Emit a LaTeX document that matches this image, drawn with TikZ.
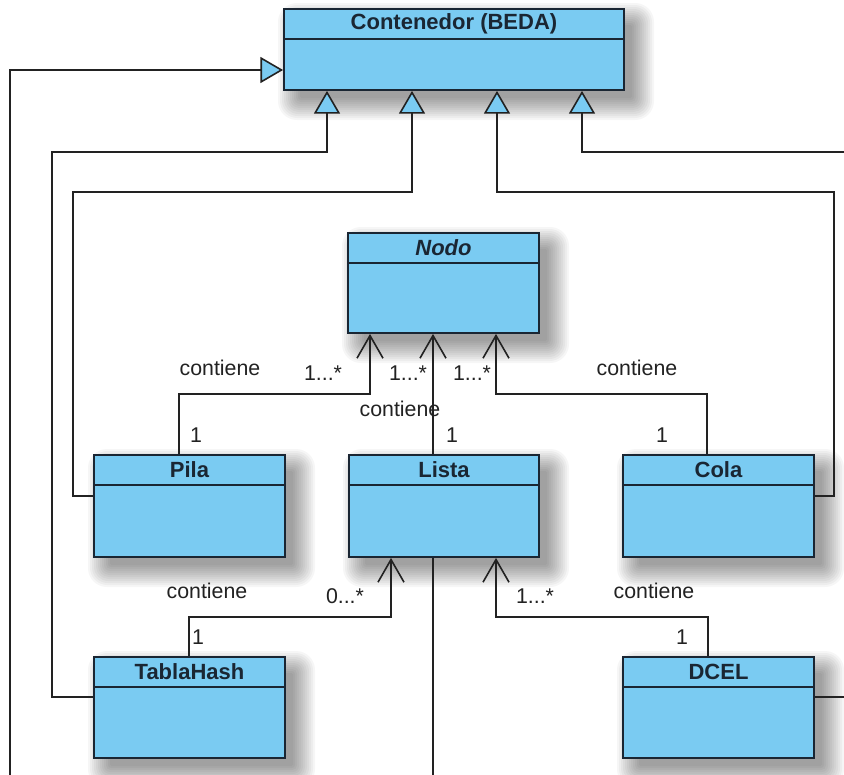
\documentclass[tikz,border=0pt]{standalone}
\usepackage{fontspec}
\setmainfont{Liberation Sans}
\usetikzlibrary{arrows.meta,fit}

\definecolor{boxblue}{HTML}{7ACBF2}
\definecolor{boxedge}{HTML}{1A2633}
\definecolor{ink}{HTML}{222222}

\tikzset{
  umlbox/.style={draw=boxedge, line width=1.4pt, fill=boxblue, inner sep=0pt},
  sepline/.style={draw=boxedge, line width=1.4pt},
  classname/.style={font=\fontsize{16.5}{18}\selectfont\bfseries, text=boxedge, inner sep=0pt},
  shadowlayer/.style={fill=black, opacity=0.035},
  rel/.style={draw=ink, line width=1.2pt, line join=miter},
  inh/.style={rel, -{Triangle[length=17pt, width=19.5pt, fill=boxblue, line width=1.2pt]}},
  assoc/.style={rel, -{Straight Barb[length=17pt, width=19.5pt, line width=1.2pt]}},
  tag/.style={font=\fontsize{16}{18}\selectfont, text=ink, inner sep=0pt},
}

% soft drop shadow under a box: left, top, right, bottom
\newcommand{\softshadow}[4]{%
  \foreach \k [evaluate=\k as \e using 2*\k-4,
               evaluate=\k as \r using 1.2*\k+1] in {0,...,11} {
    \fill[shadowlayer, rounded corners=\r pt]
      (#1+12-\e,#2+12-\e) rectangle (#3+12+\e,#4+12+\e);
  }%
}

% class box: name, left, top, right, bottom, title (header band 30 units high)
\newcommand{\umlclass}[6]{%
  \softshadow{#2}{#3}{#4}{#5}
  \node[umlbox, fit={(#2,#3) (#4,#5)}] (#1) {};
  \draw[sepline] (#2,#3+30) -- (#4,#3+30);
  \node[classname] (#1-title) at ({(#2+#4)/2},#3+15) {#6};
}

\begin{document}
\begin{tikzpicture}[x=0.75pt, y=-0.75pt]
  \useasboundingbox (0,0) rectangle (844,775);
  \fill[white] (0,0) rectangle (844,775);
  \clip (0,0) rectangle (844,775);

  % classes
  \umlclass{C}{284}{9}{624}{90}{Contenedor (BEDA)}
  \umlclass{N}{348}{233}{539}{333}{\textit{Nodo}}
  \umlclass{P}{94}{455}{285}{557}{Pila}
  \umlclass{L}{349}{455}{539}{557}{Lista}
  \umlclass{Q}{623}{455}{814}{557}{Cola}
  \umlclass{T}{94}{657}{285}{758}{TablaHash}
  \umlclass{D}{623}{657}{814}{758}{DCEL}

  % ends of lines that continue past the frame
  \coordinate (offL) at (10,800);
  \coordinate (offR) at (870,0);
  \coordinate (offB) at (433,800);

  % generalisation towards Contenedor
  \draw[inh] (offL) |- (C.west |- 0,70);
  \draw[inh] (T.west |- 0,697) -| (52,152) -| (C.south -| 327,0);
  \draw[inh] (P.west |- 0,496) -| (73,192) -| (C.south -| 412,0);
  \draw[inh] (Q.east |- 0,496) -| (834,192) -| (C.south -| 497,0);
  \draw[inh] (D.east |- 0,697) -| (offR |- 0,152) -| (C.south -| 582,0);

  % containment
  \draw[assoc] (P.north -| 179,0) |- (370,394) -- (N.south -| 370,0);
  \draw[assoc] (L.north -| 433,0) -- (N.south -| 433,0);
  \draw[assoc] (Q.north -| 707,0) |- (496,394) -- (N.south -| 496,0);
  \draw[assoc] (T.north -| 189,0) |- (391,617) -- (L.south -| 391,0);
  \draw[assoc] (D.north -| 708,0) |- (496,617) -- (L.south -| 496,0);
  \draw[rel] (L.south -| 433,0) -- (offB);

  % labels
  \node[tag] (a1) at (220,368) {contiene};
  \node[tag] (m1) at (323,373) {1...*};
  \node[tag] (m2) at (408,373) {1...*};
  \node[tag] (m3) at (472,373) {1...*};
  \node[tag] (a2) at (637,368) {contiene};
  \node[tag] (a3) at (400,409) {contiene};
  \node[tag] (n1) at (196,435) {1};
  \node[tag] (n2) at (452,435) {1};
  \node[tag] (n3) at (662,435) {1};
  \node[tag] (a4) at (207,591) {contiene};
  \node[tag] (m4) at (345,596) {0...*};
  \node[tag] (n4) at (198,637) {1};
  \node[tag] (m5) at (535,596) {1...*};
  \node[tag] (a5) at (654,591) {contiene};
  \node[tag] (n5) at (682,637) {1};
\end{tikzpicture}
\end{document}
